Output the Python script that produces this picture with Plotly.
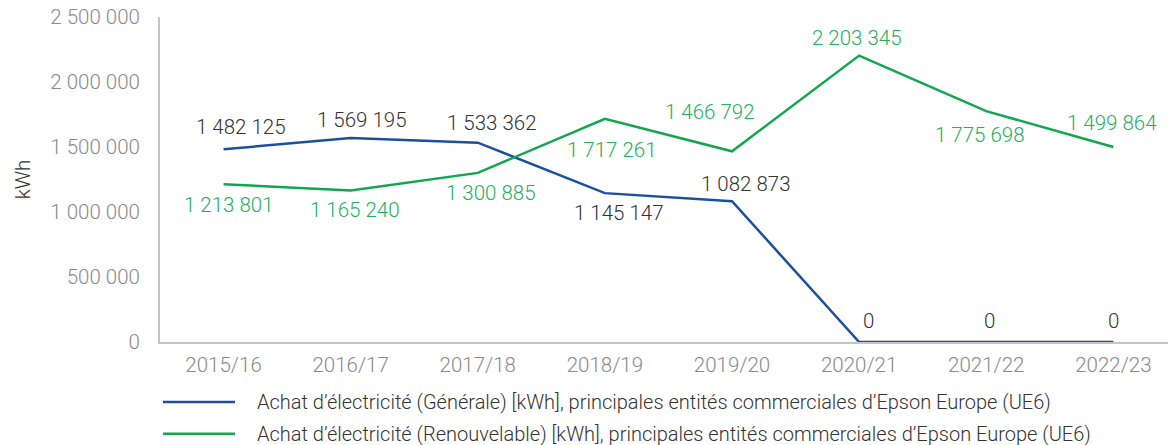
import plotly.graph_objects as go

categories = ["2015/16", "2016/17", "2017/18", "2018/19", "2019/20", "2020/21", "2021/22", "2022/23"]
general = [1482125, 1569195, 1533362, 1145147, 1082873, 0, 0, 0]
renewable = [1213801, 1165240, 1300885, 1717261, 1466792, 2203345, 1775698, 1499864]
y_tick_vals = [0, 500000, 1000000, 1500000, 2000000, 2500000]
y_tick_labels = ["0", "500 000", "1 000 000", "1 500 000", "2 000 000", "2 500 000"]
legend_names = [
    "Achat d’électricité (Générale) [kWh], principales entités commerciales d’Epson Europe (UE6)",
    "Achat d’électricité (Renouvelable) [kWh], principales entités commerciales d’Epson Europe (UE6)",
]

# data-label placement (pixel shifts from each point), style only
general_label_dx = [17, 11, 14, 14, 14, 9, 3, 0]
general_label_dy = [22, 18, 20, -20, 17, 21, 21, 21]
renewable_label_dx = [5, 4, 13, 7, -22, -2, -6, -1]
renewable_label_dy = [-21, -19, -20, -31, 39, 18, -24, 24]

BLUE = "#1b4fa0"
GREEN = "#12a64f"
GREEN_TXT = "#22b062"
FONT = "Roboto"
FS = 20.5


def fmt(v):
    return f"{v:,}".replace(",", " ")


fig = go.Figure()
fig.add_trace(go.Scatter(
    x=categories, y=general, mode="lines",
    line=dict(color=BLUE, width=2.5),
    name=legend_names[0], showlegend=False, cliponaxis=False,
))
fig.add_trace(go.Scatter(
    x=categories, y=renewable, mode="lines",
    line=dict(color=GREEN, width=2.5),
    name=legend_names[1], showlegend=False, cliponaxis=False,
))

for vals, dxs, dys, col in [(general, general_label_dx, general_label_dy, "#333333"),
                            (renewable, renewable_label_dx, renewable_label_dy, GREEN_TXT)]:
    for c, v, dx, dy in zip(categories, vals, dxs, dys):
        fig.add_annotation(x=c, y=v, text=fmt(v), showarrow=False, xshift=dx, yshift=dy,
                           xanchor="center", yanchor="middle",
                           font=dict(size=FS, color=col, family=FONT, weight=300))

# custom legend (long line samples)
for i, (name, col) in enumerate(zip(legend_names, [BLUE, GREEN])):
    yy = -0.1846 - i * 0.098
    fig.add_shape(type="line", xref="paper", yref="paper", x0=0.003, x1=0.0744, y0=yy, y1=yy,
                  line=dict(color=col, width=2.5))
    fig.add_annotation(xref="paper", yref="paper", x=0.0942, y=yy, text=name, showarrow=False,
                       xanchor="left", yanchor="middle",
                       font=dict(size=20, color="#333333", family=FONT, weight=300))

fig.update_layout(
    width=1168, height=445,
    margin=dict(l=160, r=0, t=17, b=103),
    plot_bgcolor="white", paper_bgcolor="white",
    font=dict(family=FONT, size=FS, color="#8a8a8a", weight=300),
    showlegend=False,
    xaxis=dict(
        type="category", range=[-0.5, 7.43], showgrid=False, zeroline=False,
        showline=True, linecolor="#c4c4c4", linewidth=2, automargin=False,
        ticks="outside", ticklen=3, tickcolor="rgba(0,0,0,0)",
        tickfont=dict(size=FS, color="#8a8a8a", family=FONT, weight=300),
    ),
    yaxis=dict(
        range=[0, 2500000], tickvals=y_tick_vals, ticktext=y_tick_labels,
        showgrid=False, zeroline=False, showline=True, linecolor="#c4c4c4", linewidth=2,
        automargin=False,
        ticks="outside", ticklen=14, tickcolor="rgba(0,0,0,0)",
        tickfont=dict(size=FS, color="#8a8a8a", family=FONT, weight=300),
        title=dict(text="kWh", standoff=14, font=dict(size=FS, color="#333333", family=FONT, weight=300)),
    ),
)

fig.write_html("out.html", config={"displayModeBar": False},
               post_script="document.body.style.margin='0';")
